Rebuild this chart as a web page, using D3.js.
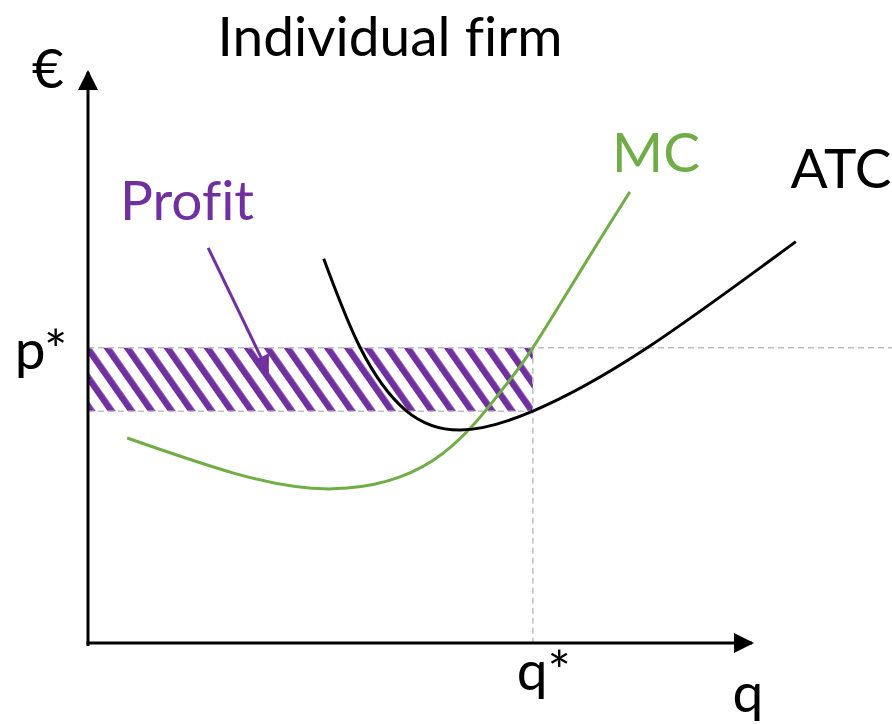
<!DOCTYPE html>
<html>
<head>
<meta charset="utf-8">
<script src="https://cdn.jsdelivr.net/npm/d3@7"></script>
<style>
  html, body { margin: 0; padding: 0; background: #fff; }
  svg text { font-family: Lato, "Open Sans", sans-serif; font-variant-ligatures: none; }
</style>
</head>
<body>
<div id="chart" style="width:892px;height:724px;"></div>
<script>
// ATC curve (quantity, cost)
const atcQ = [35.5, 41.0, 47.8, 56.0, 67.0, 83.7, 106.6];
const atcC = [67.3, 51.7, 40.8, 37.3, 40.6, 51.3, 70.3];

// MC curve
const mcQ = [5.9, 21.8, 36.9, 52.0, 62.0, 67.0, 75.2, 81.6];
const mcC = [35.9, 29.8, 27.0, 32.0, 43.8, 51.7, 67.1, 79.0];

// equilibrium values
const pStar = 51.7;
const qStar = 67.0;
const atcAtQ = 40.6;

// profit arrow (from, to)
const profitArrow = [[18.1, 69.2], [27.1, 47.5]];

function renderChart(containerSelector) {
    const container = d3.select(containerSelector);
    const width = 892, height = 724;

    const svg = container.append("svg")
        .attr("width", width)
        .attr("height", height);

    const x = d3.scaleLinear().domain([0, 100]).range([88, 752]);
    const y = d3.scaleLinear().domain([0, 100]).range([643, 72]);

    const purple = "#7030a0";
    const green = "#70ad47";
    const grey = "#bfbfbf";

    const defs = svg.append("defs");

    // hatch for profit area
    const pat = defs.append("pattern")
        .attr("id", "hatch")
        .attr("patternUnits", "userSpaceOnUse")
        .attr("width", 16.4)
        .attr("height", 16.4)
        .attr("patternTransform", "rotate(-35)");
    pat.append("rect").attr("width", 6.5).attr("height", 16.4).attr("fill", purple);

    const marker = (id, color, w, h) => {
        defs.append("marker")
            .attr("id", id)
            .attr("viewBox", "0 0 10 10")
            .attr("refX", 9).attr("refY", 5)
            .attr("markerUnits", "userSpaceOnUse")
            .attr("markerWidth", w).attr("markerHeight", h)
            .attr("orient", "auto")
            .append("path").attr("d", "M0,0 L10,5 L0,10 Z").attr("fill", color);
    };
    marker("axisHead", "#000", 20, 20);
    marker("profitHead", purple, 18, 18);

    // profit rectangle
    svg.append("rect")
        .attr("x", x(0))
        .attr("y", y(pStar))
        .attr("width", x(qStar) - x(0))
        .attr("height", y(atcAtQ) - y(pStar))
        .attr("fill", "url(#hatch)");

    // dashed guides
    const dash = svg.append("g")
        .attr("stroke", grey)
        .attr("stroke-width", 1.5)
        .attr("stroke-dasharray", "6,4");
    dash.append("line").attr("x1", x(0)).attr("x2", width).attr("y1", y(pStar)).attr("y2", y(pStar));
    dash.append("line").attr("x1", x(0)).attr("x2", x(qStar)).attr("y1", y(atcAtQ)).attr("y2", y(atcAtQ));
    dash.append("line").attr("x1", x(qStar)).attr("x2", x(qStar)).attr("y1", y(pStar)).attr("y2", y(0));

    // curves
    const line = d3.line()
        .x(d => x(d[0]))
        .y(d => y(d[1]))
        .curve(d3.curveNatural);

    svg.append("path")
        .datum(mcQ.map((q, i) => [q, mcC[i]]))
        .attr("d", line)
        .attr("fill", "none")
        .attr("stroke", green)
        .attr("stroke-width", 3);

    svg.append("path")
        .datum(atcQ.map((q, i) => [q, atcC[i]]))
        .attr("d", line)
        .attr("fill", "none")
        .attr("stroke", "#000")
        .attr("stroke-width", 3);

    // axes
    svg.append("line")
        .attr("x1", x(0)).attr("y1", y(0) + 3)
        .attr("x2", x(0)).attr("y2", y(100))
        .attr("stroke", "#000").attr("stroke-width", 3)
        .attr("marker-end", "url(#axisHead)");
    svg.append("line")
        .attr("x1", x(0) - 1.5).attr("y1", y(0))
        .attr("x2", x(100)).attr("y2", y(0))
        .attr("stroke", "#000").attr("stroke-width", 3)
        .attr("marker-end", "url(#axisHead)");

    // profit arrow
    svg.append("line")
        .attr("x1", x(profitArrow[0][0])).attr("y1", y(profitArrow[0][1]))
        .attr("x2", x(profitArrow[1][0])).attr("y2", y(profitArrow[1][1]))
        .attr("stroke", purple).attr("stroke-width", 3)
        .attr("marker-end", "url(#profitHead)");

    // labels
    const fs = "55px";
    svg.append("text").attr("x", 390).attr("y", 56).attr("text-anchor", "middle")
        .style("font-size", fs).attr("fill", "#000").text("Individual firm");
    svg.append("text").attr("x", 48).attr("y", 88).attr("text-anchor", "middle")
        .style("font-size", fs).attr("fill", "#000").text("€");
    svg.append("text").attr("x", 41).attr("y", y(pStar) + 21).attr("text-anchor", "middle")
        .style("font-size", fs).attr("fill", "#000").text("p*");
    svg.append("text").attr("x", x(qStar) + 11).attr("y", 690).attr("text-anchor", "middle")
        .style("font-size", fs).attr("fill", "#000").text("q*");
    svg.append("text").attr("x", 748).attr("y", 712).attr("text-anchor", "middle")
        .style("font-size", fs).attr("fill", "#000").text("q");
    svg.append("text").attr("x", 656).attr("y", 172).attr("text-anchor", "middle")
        .style("font-size", fs).attr("fill", green).text("MC");
    svg.append("text").attr("x", 841).attr("y", 188).attr("text-anchor", "middle")
        .style("font-size", fs).attr("fill", "#000").text("ATC");
    svg.append("text").attr("x", 187).attr("y", 220).attr("text-anchor", "middle")
        .style("font-size", fs).attr("fill", purple).text("Profit");
}

renderChart("#chart");
</script>
</body>
</html>
